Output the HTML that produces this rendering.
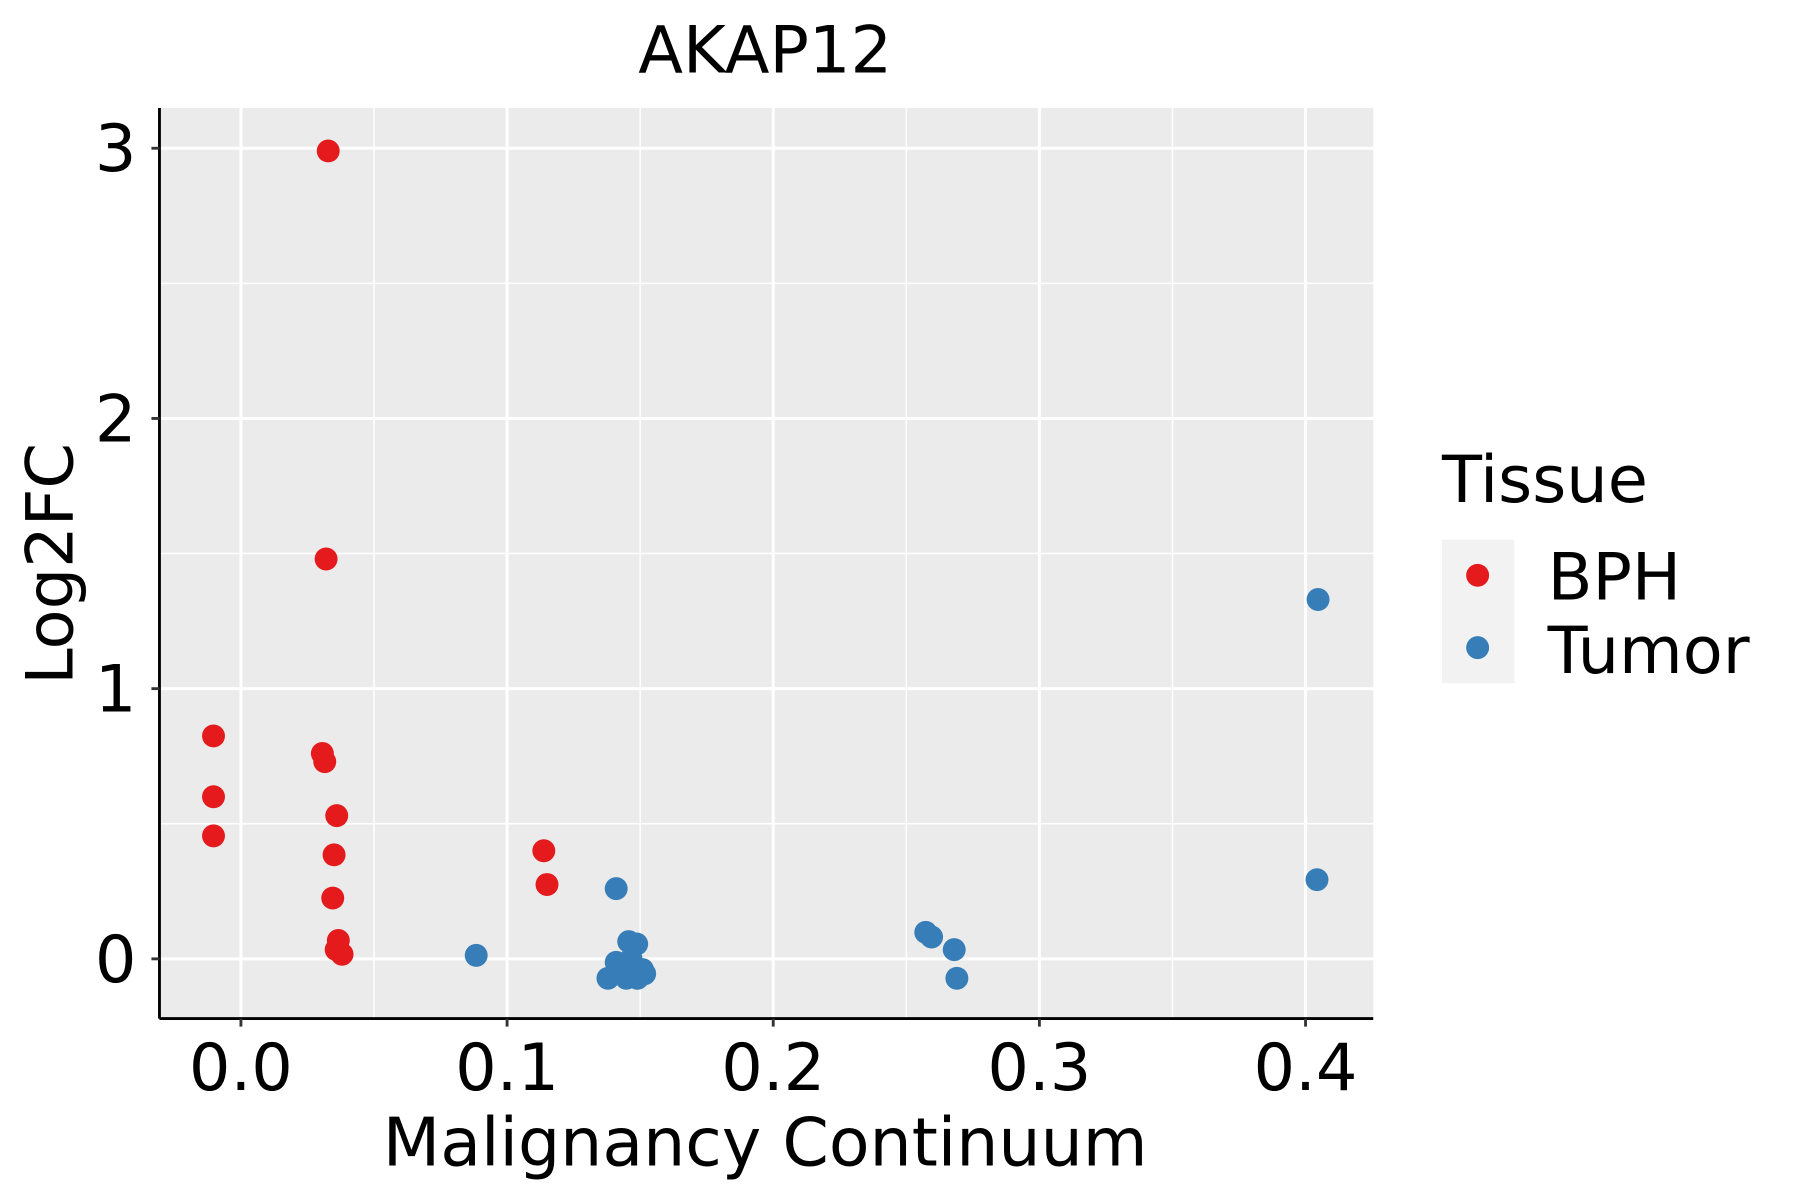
<!DOCTYPE html>
<html><head><meta charset="utf-8"><style>
html,body{margin:0;padding:0;background:#fff}
svg{display:block}
text{font-family:"DejaVu Sans","Liberation Sans",sans-serif;fill:#000}
</style></head><body>
<svg id="chart" width="1800" height="1200" viewBox="0 0 1569 1045" preserveAspectRatio="none">
<rect x="0" y="0" width="1569" height="1045" fill="#fff"/>
<rect x="139" y="94" width="1058" height="793" fill="#EBEBEB"/>
<g id="grid"></g>
<g id="points"></g>
<line x1="139" y1="94" x2="139" y2="887" stroke="#000" stroke-width="2.5"/>
<line x1="139" y1="887" x2="1197" y2="887" stroke="#000" stroke-width="2.5"/>
<g id="ticks"></g>
<text x="667" y="63" font-size="57" text-anchor="middle">AKAP12</text>
<text x="667" y="1015" font-size="58" text-anchor="middle">Malignancy Continuum</text>
<text transform="translate(63,491) rotate(-90)" font-size="57" text-anchor="middle">Log2FC</text>
<text x="1257" y="437" font-size="57">Tissue</text>
<rect x="1257" y="470" width="63" height="125" fill="#F2F2F2"/>
<circle cx="1288" cy="501" r="10" fill="#E41A1C"/>
<circle cx="1288" cy="564" r="10" fill="#377EB8"/>
<text x="1349" y="522" font-size="57">BPH</text>
<text x="1349" y="586" font-size="57">Tumor</text>
</svg>
<script>
const xTicks=[0,0.1,0.2,0.3,0.4];
const xTickLabels=["0.0","0.1","0.2","0.3","0.4"];
const yTicks=[0,1,2,3];
const yTickLabels=["0","1","2","3"];
const xMinor=[0.05,0.15,0.25,0.35];
const yMinor=[0.5,1.5,2.5];
const bphX=[0.0328,0.032,-0.0103,-0.0103,-0.0103,0.0306,0.0315,0.036,0.035,0.0345,0.0366,0.0358,0.038,0.1138,0.115];
const bphY=[2.99,1.48,0.825,0.60,0.455,0.76,0.73,0.53,0.385,0.225,0.068,0.034,0.017,0.40,0.275];
const tumorX=[0.0884,0.141,0.1457,0.1487,0.141,0.1444,0.1509,0.1517,0.1379,0.1448,0.149,0.1466,0.2573,0.2595,0.268,0.269,0.4047,0.4043];
const tumorY=[0.013,0.26,0.064,0.055,-0.013,-0.02,-0.04,-0.055,-0.072,-0.072,-0.072,0,0.098,0.081,0.034,-0.072,1.33,0.293];
const NS='http://www.w3.org/2000/svg';
function sx(v){return 210+v*2320;}
function sy(v){return 835-v*235.3;}
function mk(tag,attrs,parent){const e=document.createElementNS(NS,tag);for(const k in attrs)e.setAttribute(k,attrs[k]);parent.appendChild(e);return e;}
const grid=document.getElementById('grid'),pts=document.getElementById('points'),tk=document.getElementById('ticks');
xMinor.forEach(v=>{const l=mk('line',{x1:sx(v),x2:sx(v),y1:94,y2:887,stroke:'#fff','stroke-width':1.3},grid);

});
yMinor.forEach(v=>{const l=mk('line',{x1:139,x2:1197,y1:sy(v),y2:sy(v),stroke:'#fff','stroke-width':1.3},grid);

});
xTicks.forEach((v,i)=>{const l=mk('line',{x1:sx(v),x2:sx(v),y1:94,y2:887,stroke:'#fff','stroke-width':2.6},grid);


const t=mk('line',{x1:sx(v),x2:sx(v),y1:887,y2:894,stroke:'#333','stroke-width':2.5},tk);


const tx=mk('text',{x:sx(v),y:949,'font-size':57,'text-anchor':'middle'},tk);tx.textContent=xTickLabels[i];

});
yTicks.forEach((v,i)=>{const l=mk('line',{x1:139,x2:1197,y1:sy(v),y2:sy(v),stroke:'#fff','stroke-width':2.6},grid);


const t=mk('line',{x1:132,x2:139,y1:sy(v),y2:sy(v),stroke:'#333','stroke-width':2.5},tk);


const tx=mk('text',{x:119,y:sy(v)+20,'font-size':57,'text-anchor':'end'},tk);tx.textContent=yTickLabels[i];

});
bphX.forEach((v,i)=>{const c=mk('circle',{cx:sx(v),cy:sy(bphY[i]),r:10,fill:'#E41A1C'},pts);

});
tumorX.forEach((v,i)=>{const c=mk('circle',{cx:sx(v),cy:sy(tumorY[i]),r:10,fill:'#377EB8'},pts);

});
</script>
</body></html>
